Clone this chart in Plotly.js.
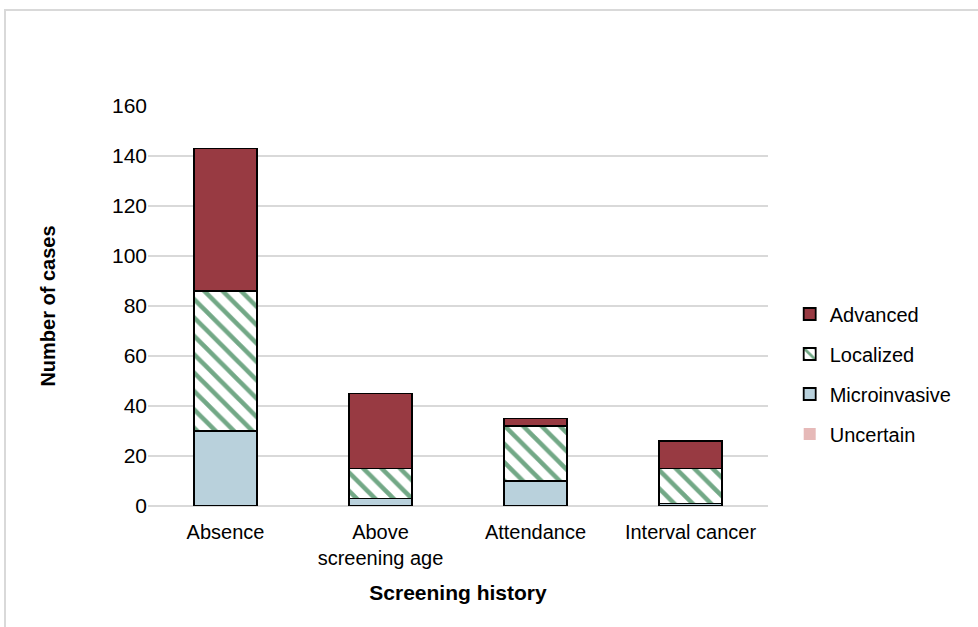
<!DOCTYPE html>
<html>
<head>
<meta charset="utf-8">
<script src="https://cdn.plot.ly/plotly-3.0.1.min.js"></script>
<style>
html,body{margin:0;padding:0;background:#fff;overflow:hidden;}
#frame{position:absolute;left:4px;top:9px;width:1000px;height:700px;border:2px solid #d9d9d9;pointer-events:none;z-index:5;}
#chart{position:absolute;left:0;top:0;width:978px;height:627px;}
</style>
</head>
<body>
<div id="chart"></div>
<div id="frame"></div>
<script>
const categories = ["Absence", "Above<br>screening age", "Attendance", "Interval cancer"];
const uncertain = [0, 0, 0, 0];
const microinvasive = [30, 3, 10, 1];
const localized = [56, 12, 22, 14];
const advanced = [57, 30, 3, 11];

const line = {color: "#000000", width: 1.8};
const traces = [
  {type: "bar", name: "Uncertain", legendgroup: "u", legendrank: 4, x: categories, y: uncertain,
   marker: {color: "#e6b9b8", line: {color: "rgba(0,0,0,0)", width: 0}}},
  {type: "bar", name: "Microinvasive", legendgroup: "m", legendrank: 3, x: categories, y: microinvasive,
   marker: {color: "#b9d1dc", line: line}},
  {type: "bar", name: "Localized", legendgroup: "l", legendrank: 2, x: categories, y: localized,
   marker: {color: "#ffffff", line: line,
     pattern: {shape: "\\", fgcolor: "#72a886", bgcolor: "#ffffff", size: 13, solidity: 0.35}}},
  {type: "bar", name: "Advanced", legendgroup: "a", legendrank: 1, x: categories, y: advanced,
   marker: {color: "#983a42", line: line}}
];

const layout = {
  width: 978, height: 627,
  paper_bgcolor: "rgba(0,0,0,0)", plot_bgcolor: "#ffffff",
  margin: {l: 148, r: 210, t: 106, b: 121, autoexpand: false},
  barmode: "stack", bargap: 0.59,
  font: {family: "Liberation Sans, Arial, sans-serif", color: "#000000"},
  xaxis: {
    showgrid: false, zeroline: false, showline: false, ticks: "",
    tickfont: {size: 20, color: "#000"}, ticklabelstandoff: 12,
    title: {text: "Screening history", font: {size: 21, color: "#000", weight: "bold"}, standoff: 17}
  },
  yaxis: {
    range: [0, 160], dtick: 20, showgrid: true, gridcolor: "#d9d9d9", gridwidth: 1.5,
    zeroline: true, zerolinecolor: "#d9d9d9", zerolinewidth: 1.5, showline: false, ticks: "",
    tickfont: {size: 21, color: "#000"},
    title: {text: "Number of cases", font: {size: 20, color: "#000", weight: "bold"}, standoff: 50}
  },
  legend: {
    x: 1.035, y: 0.33, xanchor: "left", yanchor: "middle", traceorder: "grouped",
    font: {size: 20, color: "#000"}, itemwidth: 30, tracegroupgap: 11,
    bgcolor: "rgba(0,0,0,0)"
  },
  showlegend: true
};

Plotly.newPlot("chart", traces, layout, {staticPlot: true, displayModeBar: false});
</script>
</body>
</html>
